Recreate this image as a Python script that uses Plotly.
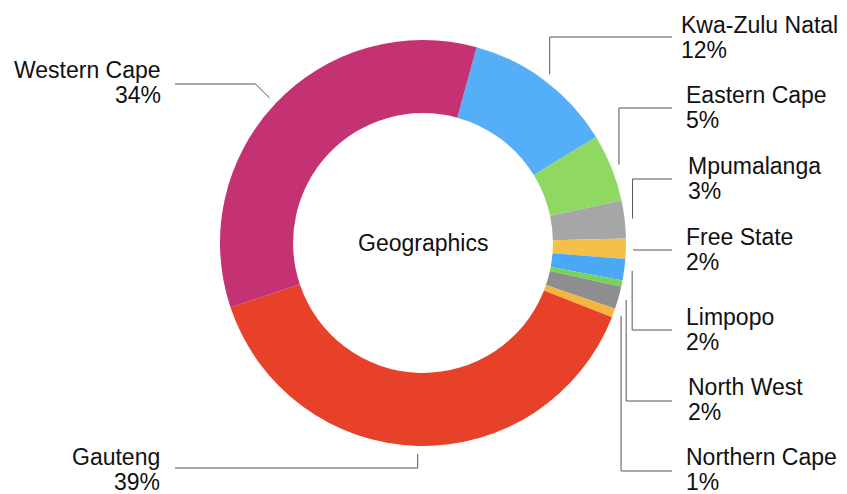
import numpy as np
import plotly.graph_objects as go

# slices clockwise, starting just right of 12 o'clock
regions = ['Kwa-Zulu Natal', 'Eastern Cape', 'Mpumalanga', 'Free State', 'Limpopo',
           'Other', 'North West', 'Northern Cape', 'Gauteng', 'Western Cape']
shares = [12.0, 5.4, 3.0, 1.6, 1.7, 0.5, 1.8, 0.7, 38.9, 34.4]
colors = ['#55AEF8', '#8FD963', '#A6A6A6', '#F3C04A', '#4AA8F7',
          '#78D15A', '#8E8E8E', '#F5B53F', '#E8412A', '#C53273']
center_title = 'Geographics'

# the page body has an 8px margin: shift everything so window pixels line up
OFF = 8
W, H = 847 - OFF, 494 - OFF
CX, CY, R = 423, 243, 203
HOLE = 0.64
ROTATION = 15.3
FONT = 'Liberation Sans'
FS = 23

# label layout (window pixels): region -> (side, leader line y, text baseline y, elbow, text x)
label_pos = {
    'Kwa-Zulu Natal': ('right', 37, 33, 'v', 679),
    'Eastern Cape': ('right', 108, 103, 'v', 684),
    'Mpumalanga': ('right', 179, 174, 'v', 686),
    'Free State': ('right', 250, 245, 'v', 684),
    'Limpopo': ('right', 330, 325, 'v', 684),
    'North West': ('right', 401, 395, 'v', 686),
    'Northern Cape': ('right', 471, 465, 'v', 684),
    'Western Cape': ('left', 84, 78, 'd', 163),
    'Gauteng': ('left', 468, 465, 'v', 162),
}


def px(x):
    return (x - OFF) / W


def py(y):
    return 1 - (y - OFF) / H


fig = go.Figure(go.Pie(
    labels=regions,
    values=shares,
    hole=HOLE,
    sort=False,
    direction='clockwise',
    rotation=ROTATION,
    textinfo='none',
    marker=dict(colors=colors, line=dict(width=0)),
    showlegend=False,
    domain=dict(x=[px(CX - R), px(CX + R)], y=[py(CY + R), py(CY - R)]),
))

total = sum(shares)
cum = np.cumsum([0] + shares)
shapes = []
annotations = []

for i, name in enumerate(regions):
    if name not in label_pos:
        continue
    side, ly, tb, elbow, tx = label_pos[name]
    mid = np.radians(ROTATION + (cum[i] + cum[i + 1]) / 2 / total * 360)
    x0 = CX + (R + 8) * np.sin(mid)
    y0 = CY - (R + 8) * np.cos(mid)
    if elbow == 'd':
        x1 = x0 - abs(y0 - ly)
    else:
        x1 = x0
    x2 = 672 if side == 'right' else 175
    path = 'M {} {} L {} {} L {} {}'.format(px(x0), py(y0), px(x1), py(ly), px(x2), py(ly))
    shapes.append(dict(type='path', path=path, xref='paper', yref='paper',
                       line=dict(color='#555555', width=1)))

    pct = '{:.0f}%'.format(shares[i] / total * 100)
    anchor = 'left' if side == 'right' else 'right'
    for txt, b in [(name, tb), (pct, tb + 25)]:
        annotations.append(dict(
            x=px(tx), y=py(b - 8), xref='paper', yref='paper',
            text=txt, showarrow=False, xanchor=anchor, yanchor='middle',
            font=dict(family=FONT, size=FS, color='#111111'),
        ))

annotations.append(dict(
    x=px(CX), y=py(CY), xref='paper', yref='paper', text=center_title,
    showarrow=False, xanchor='center', yanchor='middle',
    font=dict(family=FONT, size=23, color='#111111'),
))

fig.update_layout(
    width=W,
    height=H,
    margin=dict(l=0, r=0, t=0, b=0),
    paper_bgcolor='white',
    plot_bgcolor='white',
    shapes=shapes,
    annotations=annotations,
)

fig.write_html('out.html')
